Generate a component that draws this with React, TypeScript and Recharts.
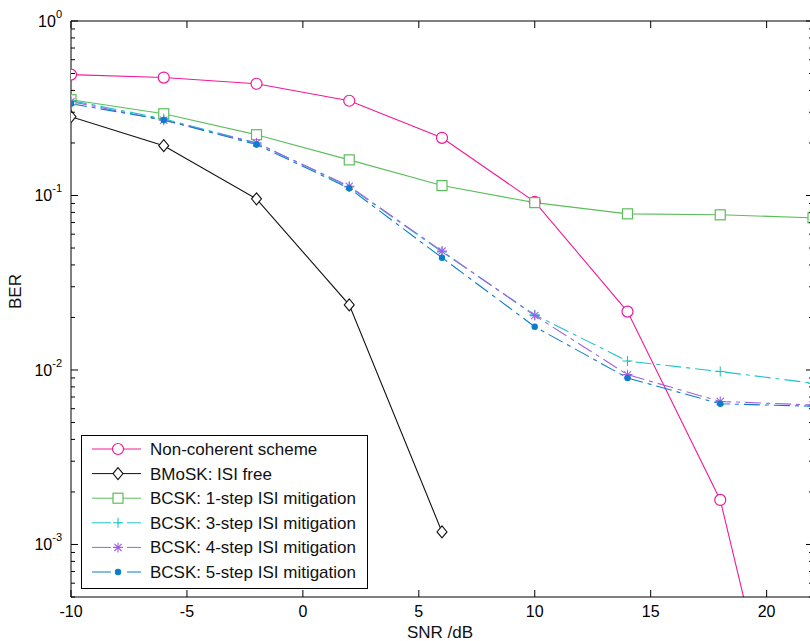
import { LineChart, Line, XAxis, YAxis, Legend } from 'recharts';

const snr = [-10, -6, -2, 2, 6, 10, 14, 18, 22];

const nonCoherent = [0.493, 0.474, 0.437, 0.349, 0.214, 0.092, 0.0216, 0.0018, 0.000011];
const bmoskIsiFree = [0.283, 0.193, 0.0957, 0.0236, 0.00118];
const bcsk1 = [0.354, 0.294, 0.223, 0.16, 0.114, 0.091, 0.0785, 0.0775, 0.0745];
const bcsk3 = [0.35, 0.275, 0.2, 0.112, 0.0475, 0.0207, 0.01125, 0.0098, 0.0084];
const bcsk4 = [0.345, 0.27, 0.2, 0.113, 0.048, 0.0205, 0.0094, 0.0066, 0.0063];
const bcsk5 = [0.336, 0.271, 0.196, 0.11, 0.044, 0.0177, 0.009, 0.0064, 0.0062];

const xTicks = [-10, -5, 0, 5, 10, 15, 20];
const yMajor = [1e-3, 1e-2, 1e-1, 1];
const yMinor = [5e-4, 6e-4, 7e-4, 8e-4, 9e-4,
  2e-3, 3e-3, 4e-3, 5e-3, 6e-3, 7e-3, 8e-3, 9e-3,
  2e-2, 3e-2, 4e-2, 5e-2, 6e-2, 7e-2, 8e-2, 9e-2,
  2e-1, 3e-1, 4e-1, 5e-1, 6e-1, 7e-1, 8e-1, 9e-1];

const data = snr.map((x, i) => ({
  snr: x,
  nc: nonCoherent[i],
  bm: bmoskIsiFree[i],
  b1: bcsk1[i],
  b3: bcsk3[i],
  b4: bcsk4[i],
  b5: bcsk5[i],
}));

const FONT = '"Liberation Sans", Arial, sans-serif';
const DASHDOT = '16 5 4 5';

type Shape = 'circle' | 'diamond' | 'square' | 'plus' | 'star' | 'dot';

const series: { key: string; name: string; color: string; shape: Shape; dash?: string }[] = [
  { key: 'nc', name: 'Non-coherent scheme', color: '#F2189A', shape: 'circle' },
  { key: 'bm', name: 'BMoSK: ISI free', color: '#111111', shape: 'diamond' },
  { key: 'b1', name: 'BCSK: 1-step ISI mitigation', color: '#5CBD5C', shape: 'square' },
  { key: 'b3', name: 'BCSK: 3-step ISI mitigation', color: '#1EC3C6', shape: 'plus', dash: DASHDOT },
  { key: 'b4', name: 'BCSK: 4-step ISI mitigation', color: '#A35FE6', shape: 'star', dash: DASHDOT },
  { key: 'b5', name: 'BCSK: 5-step ISI mitigation', color: '#0A7DCB', shape: 'dot', dash: DASHDOT },
];

function marker(shape: Shape, cx: number, cy: number, color: string, key?: string | number) {
  switch (shape) {
    case 'circle':
      return <circle key={key} cx={cx} cy={cy} r={5.5} fill="#fff" stroke={color} strokeWidth={1.2} />;
    case 'diamond':
      return <path key={key} d={`M${cx},${cy - 6}L${cx + 5},${cy}L${cx},${cy + 6}L${cx - 5},${cy}Z`} fill="#fff" stroke={color} strokeWidth={1.1} />;
    case 'square':
      return <rect key={key} x={cx - 5} y={cy - 5} width={10} height={10} fill="#fff" stroke={color} strokeWidth={1.2} />;
    case 'plus':
      return <path key={key} d={`M${cx - 5},${cy}H${cx + 5}M${cx},${cy - 5}V${cy + 5}`} stroke={color} strokeWidth={1.1} fill="none" />;
    case 'star':
      return <path key={key} d={`M${cx - 5},${cy}H${cx + 5}M${cx},${cy - 5}V${cy + 5}M${cx - 3.6},${cy - 3.6}L${cx + 3.6},${cy + 3.6}M${cx - 3.6},${cy + 3.6}L${cx + 3.6},${cy - 3.6}`} stroke={color} strokeWidth={1.1} fill="none" />;
    case 'dot':
      return <circle key={key} cx={cx} cy={cy} r={3.2} fill={color} stroke="none" />;
  }
}

function makeDot(shape: Shape, color: string) {
  return (p: any) => {
    if (p.cx == null || p.cy == null || p.value == null) return <g key={p.index} />;
    return marker(shape, p.cx, p.cy, color, p.index);
  };
}

const isMajor = (v: number) => yMajor.some((m) => Math.abs(m - v) / m < 1e-6);

function LeftTick(p: any) {
  const v = p.payload.value;
  const major = isMajor(v);
  const exp = Math.round(Math.log10(v));
  return (
    <g>
      <line x1={p.x} x2={p.x + (major ? 7 : 4)} y1={p.y} y2={p.y} stroke="#000" strokeWidth={1} />
      {major && (
        <text x={p.x - 9} y={p.y + 6} textAnchor="end" fontFamily={FONT} fontSize={16} fill="#000">
          10<tspan dy={-9} fontSize={11}>{exp}</tspan>
        </text>
      )}
    </g>
  );
}

function RightTick(p: any) {
  const major = isMajor(p.payload.value);
  return <line x1={p.x} x2={p.x - (major ? 7 : 4)} y1={p.y} y2={p.y} stroke="#000" strokeWidth={1} />;
}

function BottomTick(p: any) {
  return (
    <g>
      <line x1={p.x} x2={p.x} y1={p.y} y2={p.y - 7} stroke="#000" strokeWidth={1} />
      <text x={p.x} y={p.y + 20} textAnchor="middle" fontFamily={FONT} fontSize={16} fill="#000">
        {p.payload.value}
      </text>
    </g>
  );
}

function TopTick(p: any) {
  return <line x1={p.x} x2={p.x} y1={p.y} y2={p.y + 7} stroke="#000" strokeWidth={1} />;
}

function LegendBox() {
  const rowH = 24.6;
  return (
    <svg width={287} height={154} style={{ display: 'block' }}>
      <rect x={0.5} y={0.5} width={286} height={153} fill="#fff" stroke="#000" strokeWidth={1} />
      {series.map((s, i) => {
        const y = 14 + i * rowH;
        return (
          <g key={s.key}>
            <line x1={11} x2={60} y1={y} y2={y} stroke={s.color} strokeWidth={1} strokeDasharray={s.dash ? '19 6 4 6' : undefined} />
            {marker(s.shape, 37, y, s.color)}
            <text x={69} y={y + 6} fontFamily={FONT} fontSize={17} fill="#111">
              {s.name}
            </text>
          </g>
        );
      })}
    </svg>
  );
}

export default function App() {
  return (
    <div style={{ position: 'absolute', left: 0, top: 0, width: 810, height: 641, overflow: 'hidden', background: '#fff' }}>
      <LineChart width={830} height={641} data={data} margin={{ top: 0, right: 0, bottom: 0, left: 0 }}>
        <XAxis
          xAxisId="bottom"
          dataKey="snr"
          type="number"
          domain={[-10, 22]}
          ticks={xTicks}
          allowDataOverflow
          height={44}
          tickSize={0}
          tickMargin={0}
          tickLine={false}
          stroke="#000"
          tick={<BottomTick />}
          label={{ value: 'SNR /dB', position: 'insideBottom', offset: 3, fill: '#111', fontSize: 17, fontFamily: FONT, dx: -2 }}
        />
        <XAxis
          xAxisId="top"
          orientation="top"
          dataKey="snr"
          type="number"
          domain={[-10, 22]}
          ticks={xTicks}
          allowDataOverflow
          height={21}
          tickSize={0}
          tickMargin={0}
          tickLine={false}
          stroke="#000"
          tick={<TopTick />}
        />
        <YAxis
          yAxisId="left"
          scale="log"
          type="number"
          domain={[5e-4, 1]}
          allowDataOverflow
          ticks={[...yMinor, ...yMajor]}
          interval={0}
          width={71}
          tickSize={0}
          tickMargin={0}
          tickLine={false}
          stroke="#000"
          tick={<LeftTick />}
          label={{ value: 'BER', angle: -90, position: 'insideLeft', offset: 15, fill: '#111', fontSize: 17, fontFamily: FONT }}
        />
        <YAxis
          yAxisId="right"
          orientation="right"
          scale="log"
          type="number"
          domain={[5e-4, 1]}
          allowDataOverflow
          ticks={[...yMinor, ...yMajor]}
          interval={0}
          width={17}
          tickSize={0}
          tickMargin={0}
          tickLine={false}
          stroke="#000"
          tick={<RightTick />}
        />
        {series.map((s) => (
          <Line
            key={s.key}
            xAxisId="bottom"
            yAxisId="left"
            dataKey={s.key}
            name={s.name}
            type="linear"
            stroke={s.color}
            strokeWidth={1.1}
            strokeDasharray={s.dash}
            dot={makeDot(s.shape, s.color)}
            activeDot={false}
            connectNulls={false}
            isAnimationActive={false}
          />
        ))}
        <Legend
          layout="vertical"
          align="center"
          verticalAlign="middle"
          content={<LegendBox />}
          wrapperStyle={{ position: 'absolute', left: 81, top: 435, width: 287, height: 154 }}
        />
      </LineChart>
    </div>
  );
}
